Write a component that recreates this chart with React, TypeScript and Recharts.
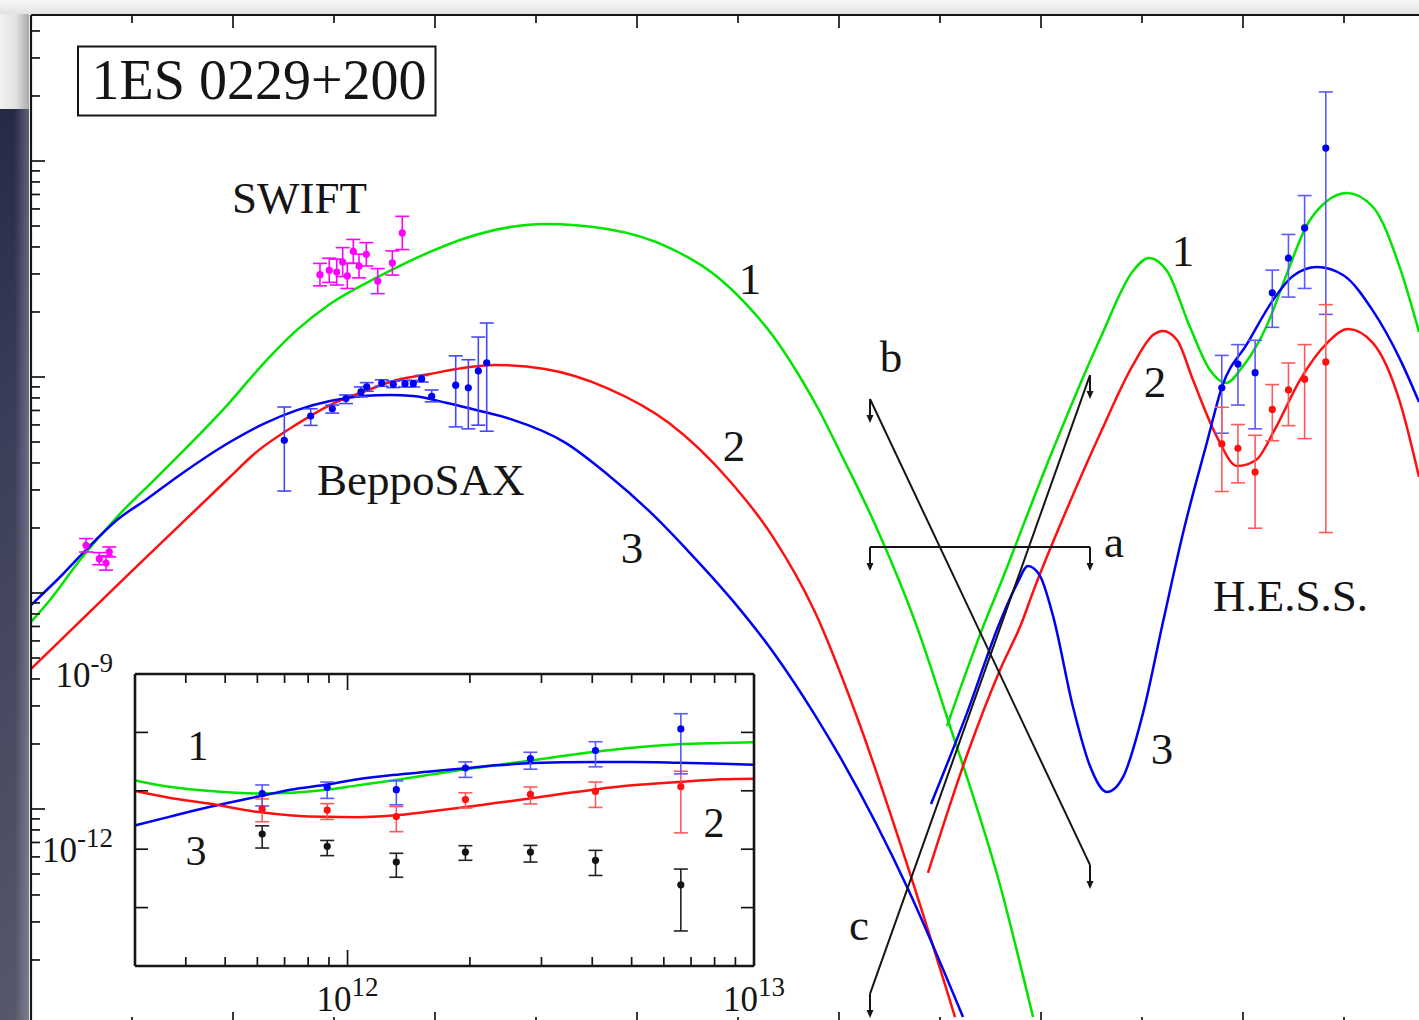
import React from 'react';
import { ComposedChart, Line, Scatter, XAxis, YAxis, ErrorBar } from 'recharts';

// ---------- axis conventions: x = log10(E / eV), y = log10(nuFnu) ----------
const SERIF = '"Liberation Serif", "Times New Roman", "DejaVu Serif", serif';

// ---------- main plot: synchrotron model curves ----------
const SYN1_X = [0, 0.188, 0.485, 0.851, 1.248, 1.97, 2.297, 2.634, 2.96, 3.455, 3.95, 4.277, 4.743, 5.089, 5.703, 6.327, 6.772, 7.069, 7.347, 7.614, 7.812, 8.01, 8.337, 8.772, 9.069, 9.594, 9.921];
const SYN1_Y = [-12.134, -12.032, -11.847, -11.648, -11.463, -11.116, -10.94, -10.782, -10.662, -10.532, -10.421, -10.361, -10.306, -10.292, -10.315, -10.403, -10.528, -10.657, -10.81, -11.0, -11.162, -11.347, -11.662, -12.157, -12.574, -13.352, -13.963];
const SYN2_X = [0, 0.98, 1.97, 2.198, 2.634, 2.96, 3.287, 3.624, 3.95, 4.277, 4.594, 5.089, 5.703, 6.317, 6.901, 7.347, 7.762, 8.178, 8.673, 9.149];
const SYN2_Y = [-12.352, -11.907, -11.463, -11.361, -11.218, -11.13, -11.069, -11.014, -10.986, -10.958, -10.944, -10.963, -11.051, -11.213, -11.472, -11.741, -12.088, -12.574, -13.255, -13.963];
const SYN3_X = [0, 0.317, 0.554, 0.851, 1.149, 1.446, 1.97, 2.297, 2.634, 2.96, 3.287, 3.554, 3.782, 4.119, 4.446, 4.743, 5.297, 5.703, 6.119, 6.525, 6.941, 7.347, 7.762, 8.01, 8.683, 9.228];
const SYN3_Y = [-12.056, -11.912, -11.796, -11.662, -11.565, -11.463, -11.301, -11.218, -11.153, -11.111, -11.088, -11.083, -11.088, -11.12, -11.157, -11.194, -11.306, -11.449, -11.62, -11.815, -12.032, -12.273, -12.565, -12.759, -13.37, -13.963];

// ---------- main plot: inverse-Compton model curves ----------
const IC1_X = [9.069, 9.426, 9.594, 10.089, 10.584, 10.911, 11.069, 11.248, 11.475, 11.673, 11.832, 12.0, 12.238, 12.436, 12.634, 12.832, 13.03, 13.287, 13.554, 13.743];
const IC1_Y = [-12.616, -12.157, -11.963, -11.37, -10.824, -10.509, -10.449, -10.509, -10.769, -10.968, -11.028, -10.95, -10.76, -10.519, -10.296, -10.185, -10.148, -10.213, -10.495, -10.792];
const IC2_X = [8.881, 9.267, 9.594, 9.812, 9.921, 10.257, 10.584, 10.911, 11.109, 11.208, 11.347, 11.505, 11.743, 11.941, 12.129, 12.317, 12.564, 12.832, 13.04, 13.287, 13.554, 13.743];
const IC2_Y = [-13.296, -12.75, -12.356, -12.134, -11.995, -11.611, -11.264, -10.944, -10.806, -10.787, -10.829, -11.014, -11.278, -11.412, -11.384, -11.241, -11.014, -10.843, -10.778, -10.843, -11.116, -11.463];
const IC3_X = [8.911, 9.267, 9.594, 9.762, 9.871, 9.99, 10.119, 10.317, 10.485, 10.653, 10.812, 11.01, 11.208, 11.416, 11.644, 11.792, 12.04, 12.297, 12.495, 12.733, 12.99, 13.287, 13.554, 13.743];
const IC3_Y = [-12.977, -12.556, -12.134, -11.958, -11.875, -11.921, -12.106, -12.528, -12.801, -12.921, -12.852, -12.556, -12.134, -11.704, -11.301, -11.046, -10.847, -10.644, -10.532, -10.491, -10.528, -10.694, -10.917, -11.116];

// ---------- upper limits a, b, c (end points) ----------
const LIMIT_X = [8.307, 10.485];
const LIMIT_A_Y = [-11.787, -11.787];
const LIMIT_B_Y = [-11.102, -13.259];
const LIMIT_C_Y = [-13.856, -10.991];

// ---------- data points ----------
const UVOT_X = [0.545, 0.676, 0.743, 0.775];
const UVOT_Y = [-11.779, -11.841, -11.861, -11.81];
const UVOT_ERR = [0.031, 0.028, 0.033, 0.023];

const XRT_X = [2.861, 2.953, 3.027, 3.086, 3.132, 3.191, 3.248, 3.32, 3.433, 3.578, 3.676];
const XRT_Y = [-10.526, -10.506, -10.514, -10.468, -10.532, -10.418, -10.486, -10.432, -10.556, -10.472, -10.333];
const XRT_ERR = [0.052, 0.056, 0.06, 0.067, 0.058, 0.055, 0.055, 0.054, 0.058, 0.056, 0.077];

const SAX_X = [2.508, 2.769, 2.983, 3.119, 3.267, 3.324, 3.472, 3.587, 3.703, 3.785, 3.868, 3.967, 4.205, 4.33, 4.429, 4.512];
const SAX_Y = [-11.293, -11.181, -11.147, -11.1, -11.069, -11.046, -11.028, -11.034, -11.031, -11.031, -11.008, -11.089, -11.038, -11.05, -10.972, -10.934];
const SAX_LO = [0.235, 0.043, 0.02, 0.023, 0.023, 0.02, 0.015, 0.015, 0.015, 0.015, 0.015, 0.026, 0.193, 0.19, 0.251, 0.317];
const SAX_HI = [0.154, 0.034, 0.017, 0.017, 0.023, 0.02, 0.015, 0.015, 0.015, 0.015, 0.015, 0.029, 0.136, 0.13, 0.157, 0.184];

const HESS_X = [11.79, 11.95, 12.12, 12.29, 12.45, 12.61, 12.82];
const HESS_BLUE = [-11.05, -10.94, -10.98, -10.61, -10.45, -10.31, -9.94];
const HESS_BLUE_LO = [0.21, 0.19, 0.26, 0.16, 0.18, 0.28, 0.77];
const HESS_BLUE_HI = [0.15, 0.09, 0.15, 0.105, 0.11, 0.15, 0.26];
const HESS_RED = [-11.31, -11.33, -11.44, -11.15, -11.06, -11.01, -10.93];
const HESS_RED_LO = [0.22, 0.16, 0.26, 0.145, 0.165, 0.275, 0.79];
const HESS_RED_HI = [0.17, 0.11, 0.17, 0.115, 0.125, 0.16, 0.265];
const HESS_OBS = [-11.74, -11.95, -12.22, -12.05, -12.05, -12.19, -12.61];
const HESS_OBS_LO = [0.24, 0.16, 0.26, 0.14, 0.17, 0.26, 0.79];
const HESS_OBS_HI = [0.14, 0.1, 0.15, 0.11, 0.115, 0.17, 0.27];

// ---------- inset curves ----------
const INSET_X = [11.4771, 11.561, 11.662, 11.776, 11.864, 11.942, 12.025, 12.111, 12.197, 12.277, 12.368, 12.443, 12.529, 12.61, 12.7, 12.813, 12.922, 13.0];
const INSET_1 = [-10.822, -10.931, -11.005, -11.045, -11.034, -10.988, -10.907, -10.822, -10.731, -10.645, -10.559, -10.491, -10.405, -10.331, -10.262, -10.204, -10.182, -10.17];
const INSET_3 = [-11.593, -11.446, -11.274, -11.103, -10.976, -10.902, -10.804, -10.731, -10.674, -10.623, -10.564, -10.53, -10.513, -10.508, -10.508, -10.52, -10.537, -10.554];
const INSET_2 = [-11.005, -11.12, -11.223, -11.36, -11.422, -11.446, -11.451, -11.422, -11.36, -11.292, -11.206, -11.137, -11.051, -10.976, -10.907, -10.851, -10.804, -10.794];

// ---------- axes ----------
const MAIN_X_DOMAIN = [0, 14];
const MAIN_Y_DOMAIN = [-14, -9.324];
const MAIN_X_MAJOR = [0, 2, 4, 6, 8, 10, 12, 14];
const MAIN_X_MINOR = [1, 3, 5, 7, 9, 11, 13];
const MAIN_Y_MAJOR = [-14, -13, -12, -11, -10];
const MAIN_Y_MINOR: number[] = [];
[-14, -13, -12, -11, -10].forEach((d) => [2, 3, 4, 5, 6, 7, 8, 9].forEach((k) => {
  const v = d + Math.log10(k);
  if (v < MAIN_Y_DOMAIN[1]) MAIN_Y_MINOR.push(v);
}));
const INSET_X_DOMAIN = [11.4771, 13];
const INSET_Y_DOMAIN = [-14, -9];
const INSET_X_MAJOR = [12, 13];
const INSET_X_MINOR = [3, 4, 5, 6, 7, 8, 9].map((k) => 11 + Math.log10(k)).concat([2, 3, 4, 5, 6, 7, 8, 9].map((k) => 12 + Math.log10(k)));
const INSET_Y_TICKS = [-13, -12, -11, -10];
const INSET_X_LABELS = [12, 13];
const INSET_Y_LABELS = [-12, -9];

const GREEN = '#00e400';
const RED = '#ff1010';
const BLUE = '#0000f5';
const MAGENTA = '#ff00ff';
const INK = '#151515';

const pts = (xs: number[], ys: number[]) => xs.map((x, i) => ({ x, y: ys[i] }));
const errPts = (xs: number[], ys: number[], lo: number[], hi: number[]) =>
  xs.map((x, i) => ({ x, y: ys[i], err: [lo[i], hi[i]] }));

const dot = (r: number, fill: string) => (p: any) =>
  p.cx == null ? <g /> : <circle cx={p.cx} cy={p.cy} r={r} fill={fill} />;

const NoTick = () => <g />;

const ArrowDot = (p: any) => {
  const { cx, cy } = p;
  if (cx == null || cy == null) return <g key={p.key} />;
  return (
    <g key={p.key}>
      <line x1={cx} y1={cy} x2={cx} y2={cy + 18} stroke={INK} strokeWidth={2} />
      <path d={`M${cx - 3.5},${cy + 16} L${cx + 3.5},${cy + 16} L${cx},${cy + 24} Z`} fill={INK} />
    </g>
  );
};

function xAxisTicks(id: string, orientation: 'top' | 'bottom', domain: number[], ticks: number[], size: number, line: boolean, sw: number) {
  return (
    <XAxis key={id} xAxisId={id} dataKey="x" orientation={orientation} mirror type="number" domain={domain} allowDataOverflow
      ticks={ticks} interval={0} tickSize={size} tick={NoTick} height={1}
      axisLine={line ? { stroke: INK, strokeWidth: sw } : false}
      tickLine={{ stroke: INK, strokeWidth: 1.7 }} />
  );
}
function yAxisTicks(id: string, orientation: 'left' | 'right', domain: number[], ticks: number[], size: number, line: boolean, sw: number) {
  return (
    <YAxis key={id} yAxisId={id} orientation={orientation} mirror type="number" domain={domain} allowDataOverflow
      ticks={ticks} interval={0} tickSize={size} tick={NoTick} width={1}
      axisLine={line ? { stroke: INK, strokeWidth: sw } : false}
      tickLine={{ stroke: INK, strokeWidth: 1.7 }} />
  );
}

const InsetXLabel = (p: any) => (
  <text x={p.x} y={p.y + 45} textAnchor="middle" fontFamily={SERIF} fill={INK}>
    <tspan fontSize={35}>10</tspan>
    <tspan fontSize={27} dy={-15}>{`${Math.round(p.payload.value)}`}</tspan>
  </text>
);
const InsetYLabel = (p: any) => (
  <text x={p.x - 23} y={p.y + 13} textAnchor="end" fontFamily={SERIF} fill={INK}>
    <tspan fontSize={35}>10</tspan>
    <tspan fontSize={27} dy={-15}>{`${Math.round(p.payload.value)}`}</tspan>
  </text>
);

const curve = (key: string, data: any[], color: string, xId: string, yId: string) => (
  <Line key={key} xAxisId={xId} yAxisId={yId} data={data} dataKey="y" type="monotone" stroke={color}
    strokeWidth={2.5} dot={false} activeDot={false} isAnimationActive={false} />
);

const limitLine = (key: string, ys: number[], xId: string) => (
  <Line key={key} xAxisId={xId} yAxisId="m" data={pts(LIMIT_X, ys)} dataKey="y" type="linear" stroke={INK}
    strokeWidth={2} dot={ArrowDot} activeDot={false} isAnimationActive={false} />
);

const points = (key: string, data: any[], color: string, barColor: string, xId: string, yId: string) => (
  <Scatter key={key} xAxisId={xId} yAxisId={yId} data={data} dataKey="y" fill={color}
    shape={dot(3.6, color)} isAnimationActive={false}>
    <ErrorBar dataKey="err" direction="y" width={7} stroke={barColor} strokeWidth={1.6} />
  </Scatter>
);

const label = (t: string, x: number, y: number, size = 45, anchor: 'start' | 'middle' = 'middle') => (
  <text key={`${t}-${x}`} x={x} y={y} fontSize={size} fontFamily={SERIF} fill={INK} textAnchor={anchor}>{t}</text>
);

export default function App() {
  const uvot = UVOT_X.map((x, i) => ({ x, y: UVOT_Y[i], err: [UVOT_ERR[i], UVOT_ERR[i]] }));
  const xrt = XRT_X.map((x, i) => ({ x, y: XRT_Y[i], err: [XRT_ERR[i], XRT_ERR[i]] }));
  const sax = errPts(SAX_X, SAX_Y, SAX_LO, SAX_HI);
  const hessBlue = errPts(HESS_X, HESS_BLUE, HESS_BLUE_LO, HESS_BLUE_HI);
  const hessRed = errPts(HESS_X, HESS_RED, HESS_RED_LO, HESS_RED_HI);
  const hessObs = errPts(HESS_X, HESS_OBS, HESS_OBS_LO, HESS_OBS_HI);

  return (
    <div style={{ position: 'absolute', left: 0, top: 0, width: 1419, height: 1020, overflow: 'hidden', background: '#fff' }}>
      {/* main SED: every x axis shares the same log-energy domain */}
      <div style={{ position: 'absolute', left: 0, top: 0 }}>
        <ComposedChart width={1470} height={1040} margin={{ top: 15, right: 25, bottom: 15, left: 31 }}>
          <YAxis yAxisId="m" dataKey="y" type="number" domain={MAIN_Y_DOMAIN} allowDataOverflow hide />
          {xAxisTicks('tMaj', 'top', MAIN_X_DOMAIN, MAIN_X_MAJOR, 13, true, 2.2)}
          {xAxisTicks('tMin', 'top', MAIN_X_DOMAIN, MAIN_X_MINOR, 7, false, 2)}
          {xAxisTicks('bMaj', 'bottom', MAIN_X_DOMAIN, MAIN_X_MAJOR, 13, true, 2.2)}
          {xAxisTicks('bMin', 'bottom', MAIN_X_DOMAIN, MAIN_X_MINOR, 7, false, 2)}
          {yAxisTicks('lMaj', 'left', MAIN_Y_DOMAIN, MAIN_Y_MAJOR, 14, true, 2.2)}
          {yAxisTicks('lMin', 'left', MAIN_Y_DOMAIN, MAIN_Y_MINOR, 8, false, 2)}

          {curve('s1', pts(SYN1_X, SYN1_Y), GREEN, 'tMaj', 'm')}
          {curve('s2', pts(SYN2_X, SYN2_Y), RED, 'tMaj', 'm')}
          {curve('s3', pts(SYN3_X, SYN3_Y), BLUE, 'tMaj', 'm')}
          {curve('c1', pts(IC1_X, IC1_Y), GREEN, 'tMin', 'm')}
          {curve('c2', pts(IC2_X, IC2_Y), RED, 'tMin', 'm')}
          {curve('c3', pts(IC3_X, IC3_Y), BLUE, 'tMin', 'm')}

          {limitLine('la', LIMIT_A_Y, 'bMaj')}
          {limitLine('lb', LIMIT_B_Y, 'bMaj')}
          {limitLine('lc', LIMIT_C_Y, 'bMaj')}

          {points('uvot', uvot, MAGENTA, MAGENTA, 'bMin', 'm')}
          {points('xrt', xrt, MAGENTA, MAGENTA, 'bMin', 'm')}
          {points('sax', sax, BLUE, '#4646ff', 'bMin', 'm')}
          {points('hb', hessBlue, BLUE, '#5a5aff', 'bMin', 'm')}
          {points('hr', hessRed, RED, '#ff5a5a', 'bMin', 'm')}
        </ComposedChart>
      </div>

      {/* inset background */}
      <div style={{ position: 'absolute', left: 135, top: 674, width: 619, height: 292, background: '#fff' }} />

      {/* inset */}
      <div style={{ position: 'absolute', left: 0, top: 600 }}>
        <ComposedChart width={800} height={420} margin={{ top: 74, right: 46, bottom: 4, left: 135 }}>
          <YAxis yAxisId="i" dataKey="y" type="number" domain={INSET_Y_DOMAIN} allowDataOverflow hide />
          <XAxis xAxisId="ixl" dataKey="x" orientation="bottom" type="number" domain={INSET_X_DOMAIN} allowDataOverflow
            ticks={INSET_X_LABELS} interval={0} tickSize={0} tickMargin={0} height={50}
            axisLine={false} tickLine={false} tick={InsetXLabel} />
          <YAxis yAxisId="iyl" orientation="left" mirror type="number" domain={INSET_Y_DOMAIN} allowDataOverflow
            ticks={INSET_Y_LABELS} interval={0} tickSize={0} tickMargin={0} width={1}
            axisLine={false} tickLine={false} tick={InsetYLabel} />
          {xAxisTicks('itMaj', 'top', INSET_X_DOMAIN, INSET_X_MAJOR, 16, true, 2.6)}
          {xAxisTicks('itMin', 'top', INSET_X_DOMAIN, INSET_X_MINOR, 8, false, 2)}
          {xAxisTicks('ibMaj', 'bottom', INSET_X_DOMAIN, INSET_X_MAJOR, 16, true, 2.6)}
          {xAxisTicks('ibMin', 'bottom', INSET_X_DOMAIN, INSET_X_MINOR, 8, false, 2)}
          {yAxisTicks('il', 'left', INSET_Y_DOMAIN, INSET_Y_TICKS, 13, true, 2.6)}
          {yAxisTicks('ir', 'right', INSET_Y_DOMAIN, INSET_Y_TICKS, 13, true, 2.6)}

          {curve('i1', pts(INSET_X, INSET_1), GREEN, 'itMaj', 'i')}
          {curve('i3', pts(INSET_X, INSET_3), BLUE, 'itMin', 'i')}
          {curve('i2', pts(INSET_X, INSET_2), RED, 'ibMaj', 'i')}

          {points('io', hessObs, INK, '#222', 'ibMin', 'i')}
          {points('irp', hessRed, RED, '#ff5a5a', 'ixl', 'i')}
          {points('ibp', hessBlue, BLUE, '#5a5aff', 'itMaj', 'i')}
        </ComposedChart>
      </div>

      {/* annotations */}
      <svg width={1419} height={1020} style={{ position: 'absolute', left: 0, top: 0, pointerEvents: 'none' }}>
        <rect x={78} y={46.5} width={357.5} height={69} fill="#fff" stroke={INK} strokeWidth={2} />
        {label('1ES 0229+200', 259, 99, 56)}
        {label('SWIFT', 232, 213, 45, 'start')}
        {label('BeppoSAX', 317, 495, 45, 'start')}
        {label('H.E.S.S.', 1213, 611, 45, 'start')}
        {label('1', 750, 294)}
        {label('2', 734, 461)}
        {label('3', 632, 563)}
        {label('1', 1183, 266)}
        {label('2', 1155, 397)}
        {label('3', 1162, 764)}
        {label('a', 1114, 557)}
        {label('b', 891, 372)}
        {label('c', 859, 940)}
        {label('1', 198, 760, 42)}
        {label('3', 196, 865, 42)}
        {label('2', 714, 837, 42)}
      </svg>

      {/* screenshot surroundings */}
      <div style={{ position: 'absolute', left: 0, top: 0, width: 1419, height: 14, background: 'linear-gradient(#f7f7f7, #e3e3e3)' }} />
      <div style={{ position: 'absolute', left: 0, top: 14, width: 29, height: 95, background: 'linear-gradient(to right, #f1f1f1 0%, #e2e2e2 55%, #a9a9a9 100%)' }} />
      <div style={{ position: 'absolute', left: 0, top: 109, width: 29, height: 911, background: 'linear-gradient(to right, rgba(255,255,255,0) 50%, rgba(200,200,215,0.35) 100%), linear-gradient(#262a44, #3b3e58 35%, #55586a)' }} />
    </div>
  );
}
